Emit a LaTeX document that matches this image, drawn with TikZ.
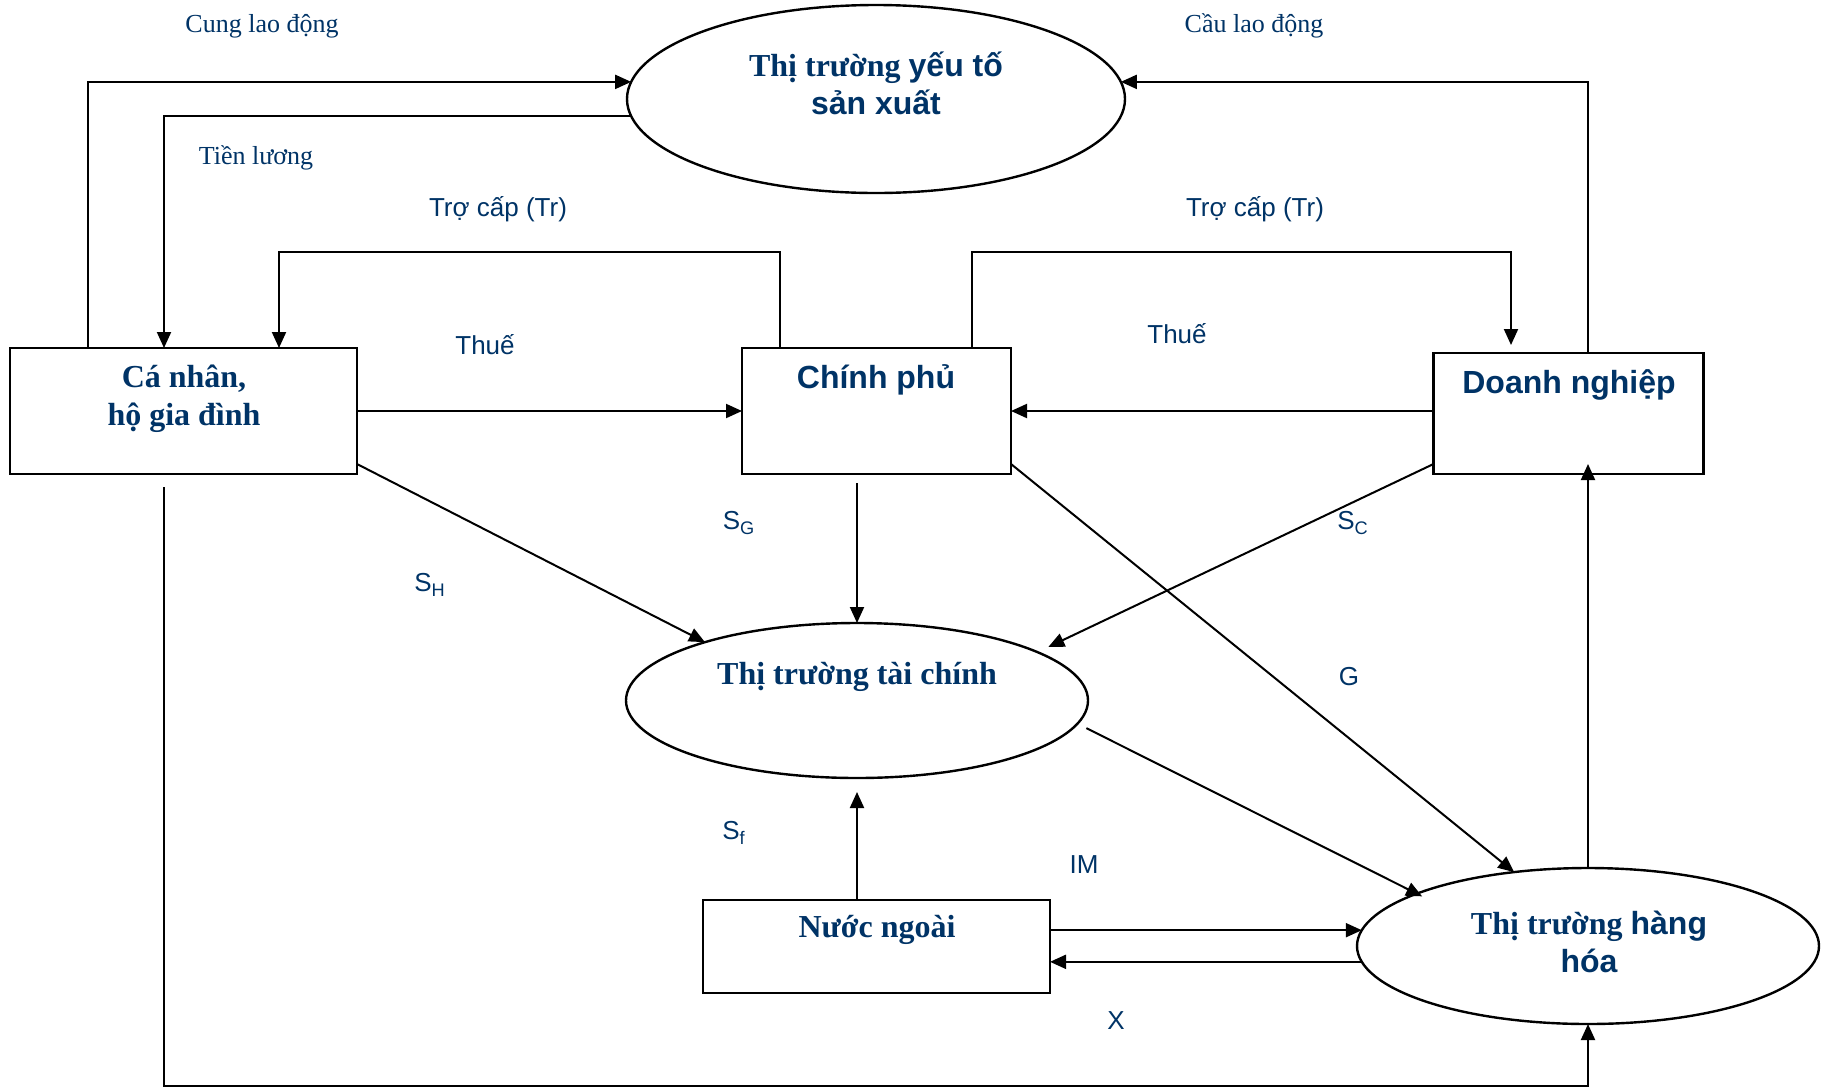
\documentclass[tikz,border=0pt]{standalone}
\usepackage{fontspec}
\setmainfont{Liberation Serif}
\setsansfont{Liberation Sans}
\usepackage{tikz}
\usetikzlibrary{arrows.meta,calc,shapes.geometric}
\definecolor{inkblue}{RGB}{0,51,102}
\tikzset{
  box/.style={draw,line width=1.2pt,inner sep=0pt,outer sep=0pt},
  market/.style={draw,ellipse,line width=1.2pt,inner sep=0pt,outer sep=0pt},
  flow/.style={line width=1pt,-{Triangle[length=8pt,width=7pt]}},
  title/.style={text=inkblue,font=\fontsize{16}{19}\selectfont\bfseries,align=center,inner sep=0pt},
  titlesans/.style={title,font=\fontsize{16}{19}\selectfont\bfseries\sffamily},
  tag/.style={text=inkblue,font=\fontsize{13}{15}\selectfont,inner sep=0pt},
  tagsans/.style={tag,font=\fontsize{13}{15}\selectfont\sffamily}
}
\begin{document}
\begin{tikzpicture}[x=0.5pt,y=-0.5pt]
\useasboundingbox (0,0) rectangle (1826,1088);
\node[market,minimum width=249pt,minimum height=94pt] (ys) at (876,99) {};
\node[market,minimum width=231pt,minimum height=77.5pt] (tc) at (857,700.5) {};
\node[market,minimum width=231pt,minimum height=78pt] (hh) at (1588,946) {};
\node[box,minimum width=173.5pt,minimum height=63pt] (cn) at (183.5,411) {};
\node[box,minimum width=134.5pt,minimum height=63pt] (cp) at (876.5,411) {};
\node[box,minimum width=135pt,minimum height=60.5pt] (dn) at (1568.5,413.5) {};
\node[box,minimum width=173.5pt,minimum height=46.5pt] (nn) at (876.5,946.5) {};

\node[title] (ystext) at (876,83) {Thị trường {\sffamily yếu tố}\\{\sffamily sản xuất}};
\node[title] (tctext) at (857,677) {Thị trường tài chính};
\node[title] (hhtext) at (1589,942) {Thị trường {\sffamily hàng}\\{\sffamily hóa}};
\node[title] (cntext) at (184,399) {Cá nhân,\\hộ gia đình};
\node[titlesans] (cptext) at (876,380) {Chính phủ};
\node[titlesans] (dntext) at (1569,385) {Doanh nghiệp};
\node[title] (nntext) at (877,930) {Nước ngoài};

\draw[flow] (88,0 |- cn.north) |- (ys.176);
\draw[flow] (ys.184) -| (164,0 |- cn.north);
\draw[flow] (1588,0 |- dn.north) |- (ys.4);
\draw[flow] (780,0 |- cp.north) |- (279,252) -- (279,0 |- cn.north);
\draw[flow] (972,0 |- cp.north) |- (1511,252) -- (1511,345);
\draw[flow] (cn.east) -- (cp.west);
\draw[flow] (dn.west |- cp.east) -- (cp.east);
\draw[flow] ($(cn.south east)+(0,-10)$) -- (tc.159);
\draw[flow] ($(tc.north |- cp.south)+(0,9)$) -- (tc.north);
\draw[flow,shorten >=6pt] ($(dn.south west)+(0,-10)$) -- (tc.15);
\draw[flow] ($(cp.south east)+(0,-10)$) -- (hh.135);
\draw[flow,shorten <=5pt,shorten >=-3pt] (tc.-6) -- (hh.163);
\draw[flow] (nn.north -| tc.south) -- ($(tc.south)+(0,14)$);
\draw[flow] (nn.east |- hh.176) -- (hh.176);
\draw[flow] (hh.184) -- (nn.east |- hh.184);
\draw[flow] (hh.north) -- ($(hh.north |- dn.south)+(0,-10)$);
\draw[flow] ($(164,0 |- cn.south)+(0,13)$) |- (hh.south |- 0,1086) -- (hh.south);

\node[tag] (cung) at (262,26) {Cung lao động};
\node[tag] (luong) at (256,158) {Tiền lương};
\node[tag] (cau) at (1254,26) {Cầu lao động};
\node[tagsans] (trleft) at (498,209) {Trợ cấp (Tr)};
\node[tagsans] (trright) at (1255,209) {Trợ cấp (Tr)};
\node[tagsans] (thueleft) at (485,345) {Thuế};
\node[tagsans] (thueright) at (1177,334) {Thuế};
\node[tagsans] (sg) at (739,523) {S\textsubscript{G}};
\node[tagsans] (sh) at (430,585) {S\textsubscript{H}};
\node[tagsans] (sc) at (1353,523) {S\textsubscript{C}};
\node[tagsans] (g) at (1349,677) {G};
\node[tagsans] (sf) at (734,833) {S\textsubscript{f}};
\node[tagsans] (im) at (1084,865) {IM};
\node[tagsans] (x) at (1116,1021) {X};
\end{tikzpicture}
\end{document}
